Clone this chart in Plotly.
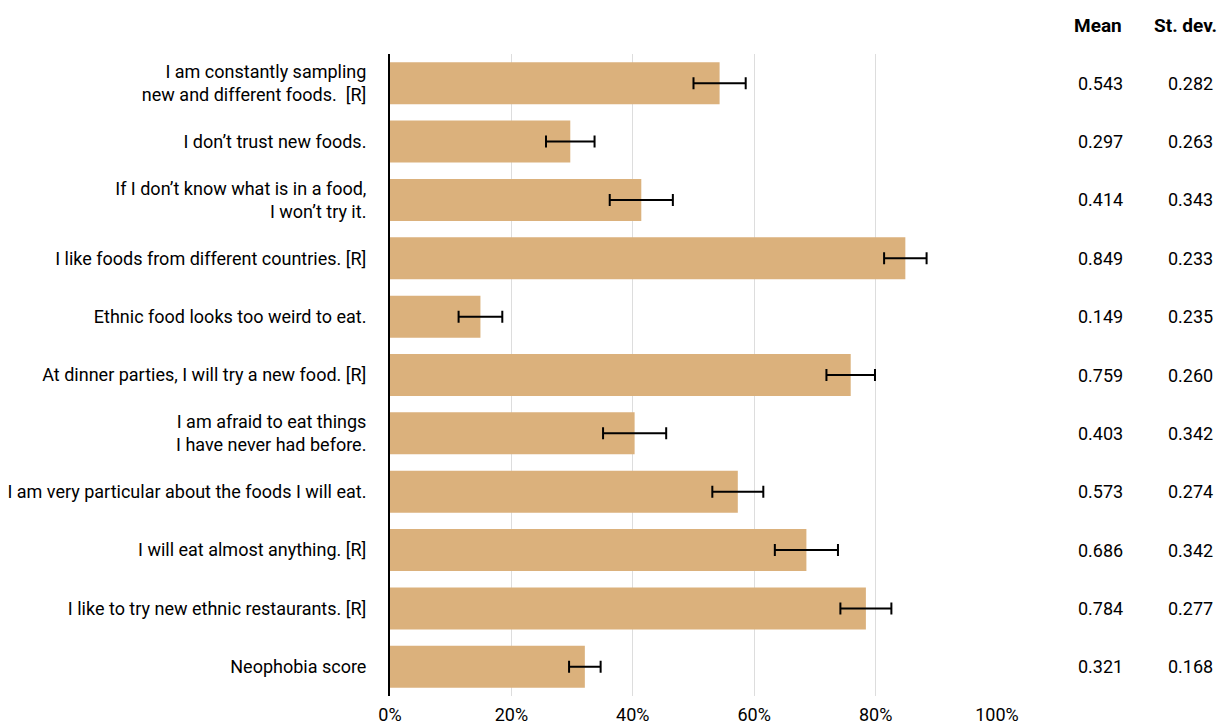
import plotly.graph_objects as go

categories = [
    "I am constantly sampling<br>new and different foods.  [R]",
    "I don’t trust new foods.",
    "If I don’t know what is in a food,<br>I won’t try it.",
    "I like foods from different countries. [R]",
    "Ethnic food looks too weird to eat.",
    "At dinner parties, I will try a new food. [R]",
    "I am afraid to eat things<br>I have never had before.",
    "I am very particular about the foods I will eat.",
    "I will eat almost anything. [R]",
    "I like to try new ethnic restaurants. [R]",
    "Neophobia score",
]
means = [0.543, 0.297, 0.414, 0.849, 0.149, 0.759, 0.403, 0.573, 0.686, 0.784, 0.321]
sds = [0.282, 0.263, 0.343, 0.233, 0.235, 0.260, 0.342, 0.274, 0.342, 0.277, 0.168]
err = [0.043, 0.040, 0.052, 0.035, 0.036, 0.040, 0.052, 0.042, 0.052, 0.042, 0.026]
tick_vals = [0, 0.2, 0.4, 0.6, 0.8, 1.0]
tick_text = ["0%", "20%", "40%", "60%", "80%", "100%"]

FONT = "Roboto"
FS = 18

fig = go.Figure()
fig.add_trace(go.Bar(
    x=means, y=categories, orientation="h",
    marker=dict(color="#DBB17C", line=dict(width=0)),
    error_x=dict(type="data", array=err, visible=True, color="black",
                 thickness=2, width=6),
    hoverinfo="x+y",
))

annotations = []
annotations.append(dict(x=1.166, y=1.0, xref="paper", yref="paper", yshift=29,
                        text="<b>Mean</b>", showarrow=False,
                        xanchor="center", yanchor="middle",
                        font=dict(family=FONT, size=19, color="black")))
annotations.append(dict(x=1.311, y=1.0, xref="paper", yref="paper", yshift=29,
                        text="<b>St. dev.</b>", showarrow=False,
                        xanchor="center", yanchor="middle",
                        font=dict(family=FONT, size=19, color="black")))
for c, m, s in zip(categories, means, sds):
    annotations.append(dict(x=1.170, y=c, xref="paper", yref="y",
                            text=f"{m:.3f}", showarrow=False,
                            xanchor="center", yanchor="middle",
                            font=dict(family=FONT, size=FS, color="black")))
    annotations.append(dict(x=1.318, y=c, xref="paper", yref="y",
                            text=f"{s:.3f}", showarrow=False,
                            xanchor="center", yanchor="middle",
                            font=dict(family=FONT, size=FS, color="black")))

fig.update_layout(
    width=1221, height=719,
    margin=dict(l=382, r=232, t=46, b=31),
    plot_bgcolor="white", paper_bgcolor="white",
    bargap=0.28,
    showlegend=False,
    font=dict(family=FONT, size=FS, color="black"),
    annotations=annotations,
)
fig.update_xaxes(
    range=[0, 1.0], tickvals=tick_vals, ticktext=tick_text,
    showgrid=True, gridcolor="#DDDDDD", gridwidth=1,
    zeroline=False, showline=False, automargin=False,
    ticks="outside", ticklen=2, tickcolor="rgba(0,0,0,0)",
    tickfont=dict(family=FONT, size=FS, color="black"),
)
fig.update_yaxes(
    autorange="reversed", automargin=False,
    showline=True, linecolor="black", linewidth=2,
    ticks="outside", ticklen=18, tickcolor="rgba(0,0,0,0)",
    tickfont=dict(family=FONT, size=FS, color="black"),
    showgrid=False,
)

fig.write_html("out.html")
